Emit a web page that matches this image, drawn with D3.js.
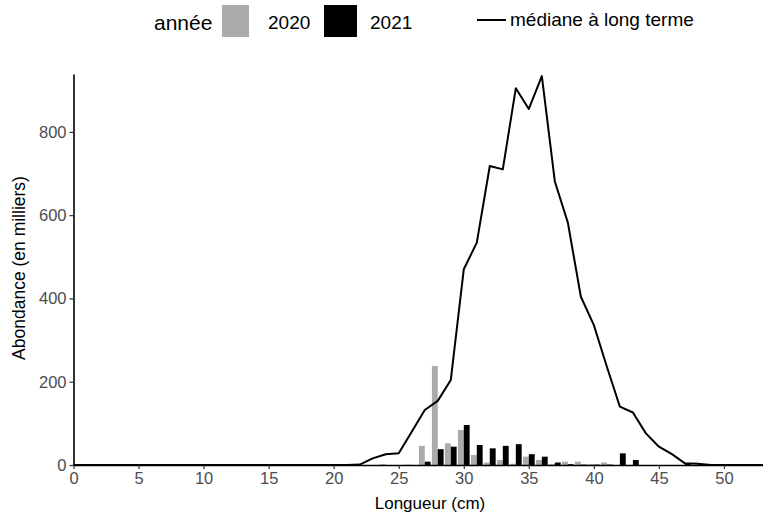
<!DOCTYPE html>
<html>
<head>
<meta charset="utf-8">
<script src="https://cdn.jsdelivr.net/npm/d3@7"></script>
<style>
  body { margin: 0; background: #fff; }
  svg { font-family: "Liberation Sans", Arial, sans-serif; }
</style>
</head>
<body>
<svg></svg>
<script>
var WIDTH = 763;
var HEIGHT = 514;

// barres : abondance par longueur (cm)
var bars2020 = [
  {x: 24, v: 2}, {x: 26, v: 1}, {x: 27, v: 46}, {x: 28, v: 238}, {x: 29, v: 52},
  {x: 30, v: 84}, {x: 31, v: 24}, {x: 32, v: 6}, {x: 33, v: 12}, {x: 34, v: 3},
  {x: 35, v: 20}, {x: 36, v: 12}, {x: 37, v: 2}, {x: 38, v: 8}, {x: 39, v: 8},
  {x: 40, v: 2}, {x: 41, v: 6}
];
var bars2021 = [
  {x: 27, v: 8}, {x: 28, v: 38}, {x: 29, v: 44}, {x: 30, v: 96}, {x: 31, v: 48},
  {x: 32, v: 40}, {x: 33, v: 46}, {x: 34, v: 50}, {x: 35, v: 26}, {x: 36, v: 20},
  {x: 37, v: 6}, {x: 38, v: 2}, {x: 39, v: 1}, {x: 40, v: 1}, {x: 41, v: 1},
  {x: 42, v: 28}, {x: 43, v: 12}, {x: 47, v: 3}, {x: 48, v: 2}
];
// médiane à long terme
var medianX = [0, 21, 22, 23, 24, 25, 26, 27, 28, 29, 30, 31, 32, 33, 34, 35, 36, 37, 38,
               39, 40, 41, 42, 43, 44, 45, 46, 47, 48, 49, 53];
var medianV = [0, 0, 1, 16, 26, 28, 80, 132, 154, 204, 470, 534, 718, 710, 905, 855, 934, 681, 582,
               404, 336, 236, 140, 126, 76, 44, 26, 4, 3, 0, 0];
var xTicks = [0, 5, 10, 15, 20, 25, 30, 35, 40, 45, 50];
var yTicks = [0, 200, 400, 600, 800];

var margin = {left: 73.5, top: 74, right: 0, bottom: 49};

var svg = d3.select('svg')
  .attr('width', WIDTH)
  .attr('height', HEIGHT);

var xScale = d3.scaleLinear()
  .domain([0, 53])
  .range([margin.left, WIDTH - margin.right]);
var yScale = d3.scaleLinear()
  .domain([0, 939])
  .range([HEIGHT - margin.bottom, margin.top]);

var bw = 0.45; // largeur d'une barre en cm

svg.append('g').selectAll('rect')
  .data(bars2020)
  .enter()
  .append('rect')
  .attr('x', function(d){ return xScale(d.x - bw); })
  .attr('width', function(d){ return xScale(bw) - xScale(0); })
  .attr('y', function(d){ return yScale(d.v); })
  .attr('height', function(d){ return yScale(0) - yScale(d.v); })
  .attr('fill', '#ababab');

svg.append('g').selectAll('rect')
  .data(bars2021)
  .enter()
  .append('rect')
  .attr('x', function(d){ return xScale(d.x); })
  .attr('width', function(d){ return xScale(bw) - xScale(0); })
  .attr('y', function(d){ return yScale(d.v); })
  .attr('height', function(d){ return yScale(0) - yScale(d.v); })
  .attr('fill', '#000');

var line = d3.line()
  .x(function(d, i){ return xScale(medianX[i]); })
  .y(function(d){ return yScale(d); });

svg.append('path')
  .datum(medianV)
  .attr('d', line)
  .attr('fill', 'none')
  .attr('stroke', '#000')
  .attr('stroke-width', 2)
  .attr('stroke-linejoin', 'round');

// axes
var xAxis = svg.append('g')
  .attr('transform', 'translate(0,' + yScale(0) + ')')
  .call(d3.axisBottom(xScale).tickValues(xTicks).tickSize(4).tickPadding(3).tickSizeOuter(0));
var yAxis = svg.append('g')
  .attr('transform', 'translate(' + margin.left + ',0)')
  .call(d3.axisLeft(yScale).tickValues(yTicks).tickSize(4).tickPadding(3).tickSizeOuter(0));

[xAxis, yAxis].forEach(function(a){
  a.select('.domain').attr('stroke', '#000').attr('stroke-width', 1.6);
  a.selectAll('.tick line').attr('stroke', '#333').attr('stroke-width', 1.2);
  a.selectAll('.tick text').attr('fill', '#4d4d4d').style('font-size', '16.5px');
});

svg.append('text')
  .attr('x', 430).attr('y', 509)
  .attr('text-anchor', 'middle')
  .style('font-size', '17px')
  .text('Longueur (cm)');

svg.append('text')
  .attr('transform', 'translate(25,268) rotate(-90)')
  .attr('text-anchor', 'middle')
  .style('font-size', '17.5px')
  .text('Abondance (en milliers)');

// légende
var leg = svg.append('g');
leg.append('text').attr('x', 154).attr('y', 30).style('font-size', '21px').text('année');
leg.append('rect').attr('x', 222).attr('y', 5).attr('width', 27).attr('height', 32).attr('fill', '#ababab');
leg.append('text').attr('x', 268).attr('y', 29).style('font-size', '19px').text('2020');
leg.append('rect').attr('x', 324).attr('y', 5).attr('width', 33).attr('height', 32).attr('fill', '#000');
leg.append('text').attr('x', 370).attr('y', 29).style('font-size', '19px').text('2021');
leg.append('line').attr('x1', 477).attr('x2', 506).attr('y1', 20).attr('y2', 20)
  .attr('stroke', '#000').attr('stroke-width', 2);
leg.append('text').attr('x', 510).attr('y', 26).style('font-size', '19px').text('médiane à long terme');
</script>
</body>
</html>
